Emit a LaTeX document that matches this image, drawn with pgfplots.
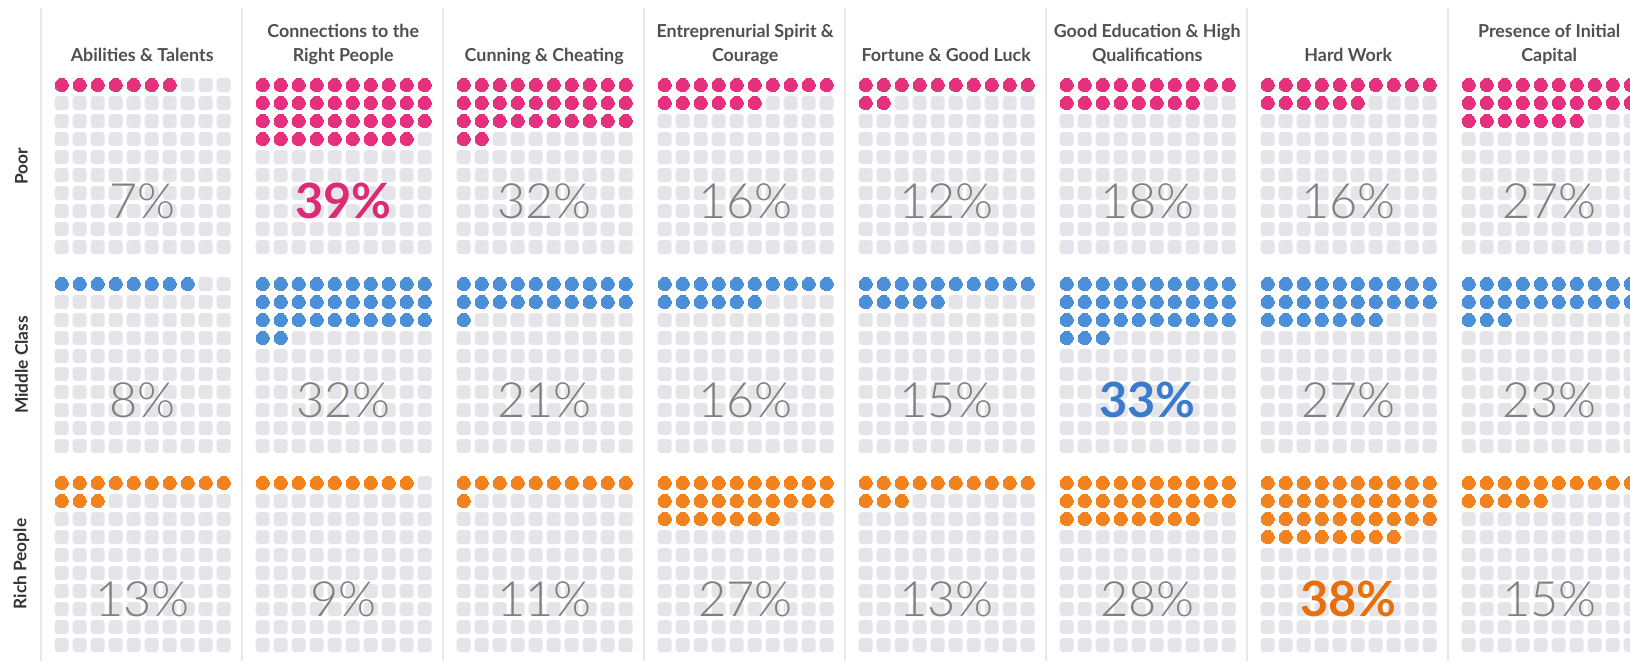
\documentclass[border=0pt]{standalone}
\usepackage{pgfplots}
\pgfplotsset{compat=1.18}
\usepackage{pgfplotstable}
\usepackage{fontspec}
\setmainfont{Lato}
\newfontfamily\lightfont{Lato Light}
\definecolor{cpoor}{HTML}{E5307E}
\definecolor{cmid}{HTML}{4A8FD8}
\definecolor{crich}{HTML}{F2821E}
\definecolor{hpoor}{HTML}{DD2A74}
\definecolor{hmid}{HTML}{3A7CCB}
\definecolor{hrich}{HTML}{E8700C}
\definecolor{cell}{HTML}{E4E4E9}
\definecolor{pct}{HTML}{808080}
\definecolor{hdr}{HTML}{505050}
\definecolor{rowlab}{HTML}{333333}
\definecolor{sep}{HTML}{E8E8E8}

% share (%) of each group naming each factor
\pgfplotstableread{
col poor middle rich
0 7 8 13
1 39 32 9
2 32 21 11
3 16 16 27
4 12 15 13
5 18 33 28
6 16 27 38
7 27 23 15
}\waffle

\newdimen\rsqr
\pgfdeclareplotmark{rsq}{%
  \rsqr=2.4pt
  \pgfpathmoveto{\pgfpoint{-\pgfplotmarksize+\rsqr}{-\pgfplotmarksize}}%
  \pgfpathlineto{\pgfpoint{\pgfplotmarksize-\rsqr}{-\pgfplotmarksize}}%
  \pgfpatharc{-90}{0}{\rsqr}%
  \pgfpathlineto{\pgfpoint{\pgfplotmarksize}{\pgfplotmarksize-\rsqr}}%
  \pgfpatharc{0}{90}{\rsqr}%
  \pgfpathlineto{\pgfpoint{-\pgfplotmarksize+\rsqr}{\pgfplotmarksize}}%
  \pgfpatharc{90}{180}{\rsqr}%
  \pgfpathlineto{\pgfpoint{-\pgfplotmarksize}{-\pgfplotmarksize+\rsqr}}%
  \pgfpatharc{180}{270}{\rsqr}%
  \pgfpathclose
  \pgfusepathqfill}

\pgfplotsset{waffleaxis/.style={x=0.75pt, y=0.75pt, xmin=0, xmax=1630, ymin=0, ymax=661,
  y dir=reverse, hide axis, clip=false, anchor=north west, at={(0,0)}}}

\begin{document}
\begin{tikzpicture}
\begin{axis}[waffleaxis, name=main]

% column separators
\pgfplotsforeachungrouped \cc in {0,...,7}{%
  \pgfmathsetmacro\sx{41+201*\cc}%
  \edef\cmd{\noexpand\draw[sep, line width=1pt] (axis cs:\sx,8) -- (axis cs:\sx,661);}\cmd
}

% headers
\foreach \cc/\la/\lb in {0//Abilities \& Talents, 1/Connections to the/Right People, 2//Cunning \& Cheating, 3/Entreprenurial Spirit \&/Courage, 4//Fortune \& Good Luck, 5/Good Education \& High/Qualifications, 6//Hard Work, 7/Presence of Initial/Capital}{%
  \pgfmathsetmacro\hx{142.2+201*\cc}%
  \edef\cmd{\noexpand\node[anchor=base, text=hdr, font=\noexpand\fontsize{13.4}{15}\noexpand\selectfont\noexpand\bfseries] at (axis cs:\hx,61) {\unexpanded\expandafter{\lb}};
    \noexpand\node[anchor=base, text=hdr, font=\noexpand\fontsize{13.4}{15}\noexpand\selectfont\noexpand\bfseries] at (axis cs:\hx,37.5) {\unexpanded\expandafter{\la}};}\cmd
}

% row labels
\foreach \rr/\rl in {0/Poor, 1/Middle Class, 2/Rich People}{%
  \pgfmathsetmacro\ly{166+199*\rr}%
  \edef\cmd{\noexpand\node[rotate=90, anchor=center, text=rowlab, font=\noexpand\fontsize{13}{15}\noexpand\selectfont\noexpand\bfseries] at (axis cs:21.5,\ly) {\rl};}\cmd
}

% waffles
\pgfplotsforeachungrouped \rr in {0,1,2}{%
  \ifcase\rr \def\g{poor}\def\cl{cpoor}\or \def\g{middle}\def\cl{cmid}\or \def\g{rich}\def\cl{crich}\fi
  \def\dotlist{}\def\celllist{}%
  \pgfplotsforeachungrouped \cc in {0,...,7}{%
    \pgfplotstablegetelem{\cc}{\g}\of\waffle
    \edef\pv{\pgfplotsretval}%
    \pgfplotsforeachungrouped \kk in {0,...,99}{%
      \pgfmathtruncatemacro\ix{mod(\kk,10)}%
      \pgfmathtruncatemacro\iy{int(\kk/10)}%
      \pgfmathsetmacro\px{61.7+201*\cc+18*\ix}%
      \pgfmathsetmacro\py{85+199*\rr+18*\iy}%
      \ifnum\kk<\pv\relax \edef\dotlist{\dotlist(\px,\py)}\else \edef\celllist{\celllist(\px,\py)}\fi
    }%
  }%
  \edef\cmd{\noexpand\addplot[only marks, mark=rsq, mark size=5.25pt, color=cell, forget plot] coordinates {\celllist};}\cmd
  \edef\cmd{\noexpand\addplot[only marks, mark=*, mark size=4.9pt, color=\cl, mark options={line width=0pt}, forget plot] coordinates {\dotlist};}\cmd
}
\end{axis}

% percentage labels on top (largest share of each group highlighted)
\begin{axis}[waffleaxis]
\pgfplotsforeachungrouped \rr in {0,1,2}{%
  \ifcase\rr \def\g{poor}\def\hl{hpoor}\or \def\g{middle}\def\hl{hmid}\or \def\g{rich}\def\hl{hrich}\fi
  \def\mx{0}%
  \pgfplotsforeachungrouped \cc in {0,...,7}{%
    \pgfplotstablegetelem{\cc}{\g}\of\waffle
    \ifnum\pgfplotsretval>\mx\relax \edef\mx{\pgfplotsretval}\fi
  }%
  \pgfplotsforeachungrouped \cc in {0,...,7}{%
    \pgfplotstablegetelem{\cc}{\g}\of\waffle
    \edef\pv{\pgfplotsretval}%
    \pgfmathsetmacro\tx{142.2+201*\cc}%
    \pgfmathsetmacro\ty{218+199*\rr}%
    \ifnum\pv=\mx\relax
      \edef\cmd{\noexpand\node[anchor=base, text=\hl, font=\noexpand\fontsize{36.5}{40}\noexpand\selectfont\noexpand\bfseries] at (axis cs:\tx,\ty) {\pv\noexpand\%};}%
    \else
      \edef\cmd{\noexpand\node[anchor=base, text=pct, font=\noexpand\lightfont\noexpand\fontsize{36.5}{40}\noexpand\selectfont] at (axis cs:\tx,\ty) {\pv\noexpand\%};}%
    \fi
    \cmd
  }%
}
\end{axis}
\pgfresetboundingbox
\path[use as bounding box] (main.south west) rectangle (main.north east);
\end{tikzpicture}
\end{document}
